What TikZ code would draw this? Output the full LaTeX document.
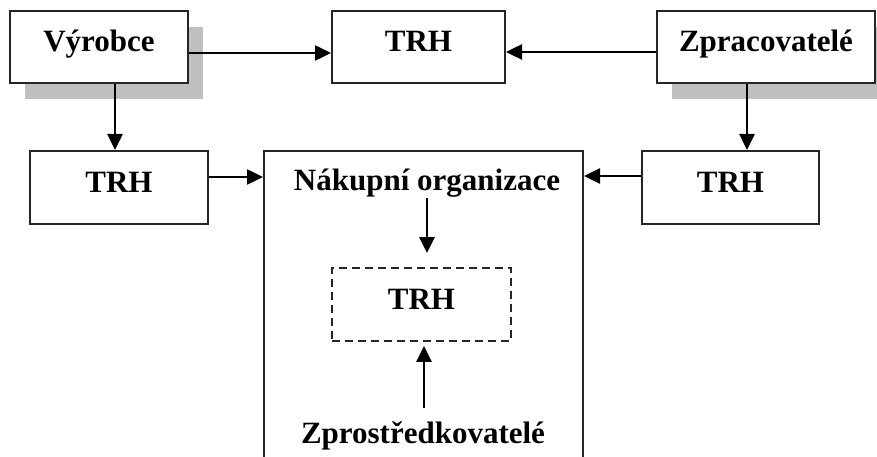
\documentclass[tikz,border=0pt]{standalone}
\usepackage{fontspec}
\setmainfont{Liberation Serif}
\usetikzlibrary{arrows.meta,shadows}
\tikzset{
  box/.style={draw=black!85, line width=2pt, fill=white, inner sep=0pt,
    font=\fontsize{31}{36}\selectfont\bfseries, text height=22pt, text depth=12pt},
  shadowed/.style={drop shadow={shadow xshift=15pt, shadow yshift=-16pt, fill=black!25, opacity=1}},
  dashbox/.style={box, line width=1.8pt, dash pattern=on 8pt off 5pt},
  lbl/.style={inner sep=0pt, font=\fontsize{31}{36}\selectfont\bfseries, anchor=base},
  arr/.style={line width=2.5pt, -{Triangle[length=16pt,width=15pt]}},
}
\begin{document}
\begin{tikzpicture}[x=1pt,y=-1pt]
\useasboundingbox (0,0) rectangle (877,457);
\clip (0,0) rectangle (877,457);
\fill[white] (0,0) rectangle (877,457);

% top row
\node[box, shadowed, minimum width=178pt, minimum height=72pt] (vyr) at (99,47) {Výrobce};
\node[box, minimum width=173pt, minimum height=72pt] (trhT) at (418.5,47) {TRH};
\node[box, shadowed, minimum width=218pt, minimum height=72pt] (zpr) at (766,47) {Zpracovatelé};

% second row
\node[box, minimum width=178pt, minimum height=73pt] (trhL) at (119,187.5) {TRH};
\node[box, minimum width=177pt, minimum height=73pt] (trhR) at (730.5,187.5) {TRH};

% purchasing organisation (runs off the bottom edge)
\node[box, minimum width=319pt, minimum height=340pt] (nak) at (423.5,321) {};
\node[lbl] (nakT) at (427,190) {Nákupní organizace};
\node[dashbox, minimum width=179pt, minimum height=73pt] (trhD) at (421.5,304.5) {TRH};
\node[lbl] (zpro) at (423,443) {Zprostředkovatelé};

% connectors
\draw[arr] ([yshift=-6pt]vyr.east) -- ([yshift=-6pt]trhT.west);
\draw[arr] ([yshift=-5pt]zpr.west) -- ([yshift=-5pt]trhT.east);
\draw[arr] ([xshift=16pt]vyr.south) coordinate (v1) -- (v1 |- trhL.north);
\draw[arr] ([xshift=-19pt]zpr.south) coordinate (z1) -- (z1 |- trhR.north);
\draw[arr] ([yshift=10.5pt]trhL.east) -- ([yshift=10.5pt]trhL.east -| nak.west);
\draw[arr] ([yshift=11.5pt]trhR.west) -- ([yshift=11.5pt]trhR.west -| nak.east);
\draw[arr, shorten >=14pt] (427,198) coordinate (a1) -- (a1 |- trhD.north);
\draw[arr] (424,408) coordinate (a2) -- ([yshift=-4pt]a2 |- trhD.south);
\end{tikzpicture}
\end{document}
